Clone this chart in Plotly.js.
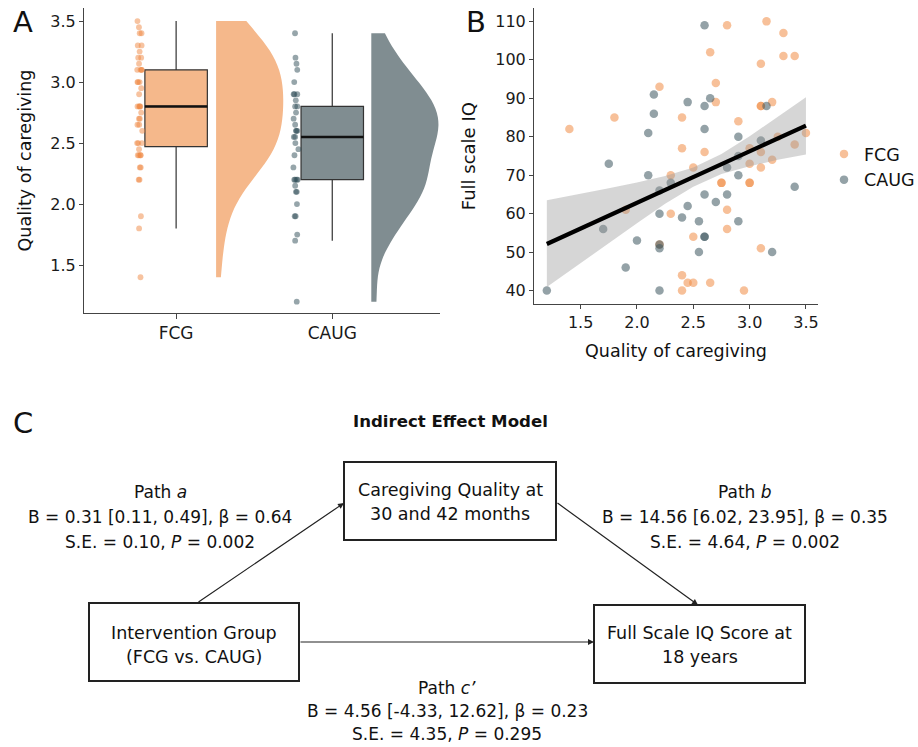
<!DOCTYPE html>
<html>
<head>
<meta charset="utf-8">
<script src="https://cdn.plot.ly/plotly-3.0.1.min.js"></script>
<style>html,body{margin:0;padding:0;background:#fff;}#chart{width:918px;height:747px;}</style>
</head>
<body>
<div id="chart"></div>
<script>
// ---------- Panel A data ----------
const groups = ['FCG', 'CAUG'];
const groupPos = [1, 2];
const fcgCare = [3.5, 3.45, 3.4, 3.4, 3.3, 3.3, 3.25, 3.2, 3.2, 3.15, 3.1, 3.1, 3.1, 3.1, 3.0, 3.0, 3.0, 2.95, 2.9,
  2.8, 2.8, 2.8, 2.8, 2.75, 2.7, 2.7, 2.65, 2.65, 2.6, 2.5, 2.5, 2.5, 2.45, 2.4, 2.4, 2.4, 2.4, 2.3, 2.3, 2.2, 2.2,
  1.9, 1.8, 1.4];
const caugCare = [3.4, 3.2, 3.15, 3.1, 3.0, 2.9, 2.9, 2.9, 2.85, 2.8, 2.8, 2.75, 2.7, 2.65, 2.6, 2.6, 2.6, 2.55, 2.55,
  2.5, 2.45, 2.4, 2.3, 2.2, 2.2, 2.2, 2.2, 2.15, 2.1, 2.1, 2.0, 1.9, 1.9, 1.75, 1.7, 1.2];
const boxQ1 = [2.47, 2.2];
const boxMedian = [2.8, 2.55];
const boxQ3 = [3.1, 2.8];
const boxLow = [1.8, 1.7];
const boxHigh = [3.5, 3.4];
const aTicks = [1.5, 2.0, 2.5, 3.0, 3.5];

// ---------- Panel B data ----------
const fcgX = [1.4, 1.8, 1.9, 2.2, 2.2, 2.3, 2.3, 2.4, 2.4, 2.4, 2.4, 2.45, 2.5, 2.5, 2.5, 2.6, 2.65, 2.65, 2.7, 2.7,
  2.75, 2.75, 2.8, 2.8, 2.8, 2.9, 2.95, 3.0, 3.0, 3.0, 3.0, 3.1, 3.1, 3.1, 3.1, 3.1, 3.1, 3.15, 3.2, 3.2, 3.25,
  3.3, 3.3, 3.4, 3.4, 3.5];
const fcgIQ = [82, 85, 61, 93, 52, 70, 60, 85, 77, 44, 40, 42, 72, 54, 42, 76, 102, 42, 94, 89,
  68, 68, 109, 61, 56, 84, 40, 77, 73, 68, 68, 99, 88, 88, 76, 72, 51, 110, 89, 74, 80,
  107, 101, 101, 78, 81];
const caugX = [1.2, 1.7, 1.75, 1.9, 2.0, 2.1, 2.1, 2.15, 2.15, 2.2, 2.2, 2.2, 2.2, 2.2, 2.3, 2.4, 2.45, 2.45, 2.55,
  2.55, 2.6, 2.6, 2.6, 2.6, 2.6, 2.6, 2.65, 2.7, 2.8, 2.8, 2.9, 2.9, 2.9, 2.9, 3.1, 3.15, 3.2, 3.4];
const caugIQ = [40, 56, 73, 46, 53, 70, 81, 86, 91, 66, 60, 52, 51, 40, 68, 59, 62, 89, 58,
  50, 54, 54, 65, 82, 88, 109, 90, 63, 72, 65, 80, 75, 70, 58, 79, 88, 50, 67];
const fitX = [1.2, 3.5];
const fitY = [52.1, 82.9];
const bandX = [1.2, 1.5, 1.75, 2.0, 2.25, 2.5, 2.75, 3.0, 3.25, 3.5];
const bandLow = [40.9, 47.2, 52.4, 57.5, 62.6, 67.0, 70.3, 72.3, 74.0, 75.4];
const bandHigh = [63.5, 65.1, 66.6, 68.1, 69.8, 72.0, 75.5, 80.1, 85.2, 90.3];
const bXTicks = [1.5, 2.0, 2.5, 3.0, 3.5];
const bYTicks = [40, 50, 60, 70, 80, 90, 100, 110];

// ---------- Panel C text ----------
const pathA = ['Path <i>a</i>', 'B = 0.31 [0.11, 0.49], β = 0.64', 'S.E. = 0.10, <i>P</i> = 0.002'];
const pathB = ['Path <i>b</i>', 'B = 14.56 [6.02, 23.95], β = 0.35', 'S.E. = 4.64, <i>P</i> = 0.002'];
const pathC = ['Path <i>c’</i>', 'B = 4.56 [-4.33, 12.62], β = 0.23', 'S.E. = 4.35, <i>P</i> = 0.295'];
const boxMediator = ['Caregiving Quality at', '30 and 42 months'];
const boxX = ['Intervention Group', '(FCG vs. CAUG)'];
const boxY = ['Full Scale IQ Score at', '18 years'];
const modelTitle = 'Indirect Effect Model';

// ---------- colours ----------
const fcgFill = '#F5B88B', caugFill = '#808D91';
const fcgDot = 'rgba(240,135,65,0.5)', caugDot = 'rgba(45,75,85,0.5)';
const fcgDotB = 'rgba(240,140,70,0.55)', caugDotB = 'rgba(60,85,95,0.55)';

const W = 918, H = 747;
const px = v => v / W, py = v => 1 - v / H;
const FONT = 'DejaVu Sans';

const traces = [];
const fills = [fcgFill, caugFill];
const dots = [fcgDot, caugDot];
const samples = [fcgCare, caugCare];
const violinPos = [1.256, 2.25];
const violinBw = [0.25, 0.21];

for (let g = 0; g < 2; g++) {
  // half violin
  traces.push({
    type: 'violin', x0: violinPos[g], y: samples[g], side: 'positive', width: 0.86, bandwidth: violinBw[g],
    spanmode: 'hard', points: false, fillcolor: fills[g], line: {width: 0, color: fills[g]},
    xaxis: 'x', yaxis: 'y', showlegend: false, hoverinfo: 'skip', box: {visible: false}, meanline: {visible: false}
  });
  // box from summary stats
  traces.push({
    type: 'box', x: [groupPos[g]], q1: [boxQ1[g]], median: [boxMedian[g]], q3: [boxQ3[g]],
    lowerfence: [boxLow[g]], upperfence: [boxHigh[g]], width: 0.4, whiskerwidth: 0,
    fillcolor: fills[g], line: {color: '#333', width: 1.2}, boxpoints: false,
    xaxis: 'x', yaxis: 'y', showlegend: false, hoverinfo: 'skip'
  });
  // thick median
  traces.push({
    type: 'box', x: [groupPos[g]], q1: [boxMedian[g]], median: [boxMedian[g]], q3: [boxMedian[g]],
    lowerfence: [boxMedian[g]], upperfence: [boxMedian[g]], width: 0.4, whiskerwidth: 0,
    fillcolor: 'rgba(0,0,0,0)', line: {color: '#111', width: 2.6}, boxpoints: false,
    xaxis: 'x', yaxis: 'y', showlegend: false, hoverinfo: 'skip'
  });
  // jittered raw points
  traces.push({
    type: 'box', x0: groupPos[g], y: samples[g], width: 0.4, boxpoints: 'all', jitter: 0.1, pointpos: -1.16,
    fillcolor: 'rgba(0,0,0,0)', line: {color: 'rgba(0,0,0,0)', width: 0}, whiskerwidth: 0,
    marker: {color: dots[g], size: 5.8, line: {width: 0}},
    xaxis: 'x', yaxis: 'y', showlegend: false, hoverinfo: 'skip'
  });
}

// Panel B
traces.push({type: 'scatter', mode: 'markers', name: groups[0], x: fcgX, y: fcgIQ, xaxis: 'x2', yaxis: 'y2',
  marker: {color: fcgDotB, size: 8.5, line: {width: 0}}, hoverinfo: 'skip'});
traces.push({type: 'scatter', mode: 'markers', name: groups[1], x: caugX, y: caugIQ, xaxis: 'x2', yaxis: 'y2',
  marker: {color: caugDotB, size: 8.5, line: {width: 0}}, hoverinfo: 'skip'});
traces.push({type: 'scatter', mode: 'lines', x: bandX, y: bandLow, xaxis: 'x2', yaxis: 'y2',
  line: {width: 0, color: 'rgba(0,0,0,0)'}, showlegend: false, hoverinfo: 'skip'});
traces.push({type: 'scatter', mode: 'lines', x: bandX, y: bandHigh, xaxis: 'x2', yaxis: 'y2', fill: 'tonexty',
  fillcolor: 'rgba(153,153,153,0.4)', line: {width: 0, color: 'rgba(0,0,0,0)'}, showlegend: false, hoverinfo: 'skip'});
traces.push({type: 'scatter', mode: 'lines', x: fitX, y: fitY, xaxis: 'x2', yaxis: 'y2',
  line: {width: 4.2, color: '#000'}, showlegend: false, hoverinfo: 'skip'});

const axisCommon = {showline: true, linecolor: '#444', linewidth: 1, ticks: 'outside', ticklen: 4, tickcolor: '#444',
  showgrid: false, zeroline: false, tickfont: {size: 16, color: '#1a1a1a'}};

const annotations = [];
const txt = (text, x, y, size, extra) => annotations.push(Object.assign({
  text: text, x: px(x), y: py(y), xref: 'paper', yref: 'paper', showarrow: false,
  xanchor: 'center', yanchor: 'middle', font: {size: size, color: '#111'}
}, extra || {}));

txt('A', 23, 22, 29);
txt('B', 476, 22, 29);
txt('C', 23, 423, 29);
txt('<b>' + modelTitle + '</b>', 450, 421, 16.6);

const lineYs = [492, 517, 542];
pathA.forEach((t, i) => txt(t, 160, lineYs[i], 17));
pathB.forEach((t, i) => txt(t, 745, lineYs[i], 17));
const cYs = [688, 711, 734];
pathC.forEach((t, i) => txt(t, 447, cYs[i], 17));
boxMediator.forEach((t, i) => txt(t, 450, [490, 514][i], 17.5));
boxX.forEach((t, i) => txt(t, 194, [633, 657][i], 17.5));
boxY.forEach((t, i) => txt(t, 699.5, [633, 657][i], 17.5));

// arrows
const arrow = (hx, hy, tx, ty) => annotations.push({
  text: '', x: px(hx), y: py(hy), xref: 'paper', yref: 'paper', showarrow: true,
  ax: tx - hx, ay: ty - hy, axref: 'pixel', ayref: 'pixel',
  arrowhead: 2, arrowsize: 1, arrowwidth: 1.2, arrowcolor: '#222', standoff: 0, startstandoff: 0
});
arrow(344, 503, 197, 603);
arrow(698, 605, 556, 502);
arrow(594, 642, 299, 642);

const rect = (x0, y0, x1, y1) => ({type: 'rect', xref: 'paper', yref: 'paper', x0: px(x0), x1: px(x1), y0: py(y1), y1: py(y0),
  line: {color: '#222', width: 2}, fillcolor: 'rgba(0,0,0,0)'});

const layout = {
  width: W, height: H, margin: {l: 0, r: 0, t: 0, b: 0, autoexpand: false}, paper_bgcolor: '#fff', plot_bgcolor: '#fff',
  font: {family: FONT, color: '#111'},
  boxmode: 'overlay', violinmode: 'overlay',
  xaxis: Object.assign({}, axisCommon, {domain: [px(84), px(440)], range: [0.41, 2.69], tickvals: groupPos, ticktext: groups,
    anchor: 'y', tickfont: {size: 17, color: '#1a1a1a'}, ticklen: 5}),
  yaxis: Object.assign({}, axisCommon, {domain: [py(313), py(8)], range: [1.107, 3.607], tickvals: aTicks, tickformat: '.1f',
    anchor: 'x', title: {text: 'Quality of caregiving', font: {size: 17.5, color: '#111'}, standoff: 14}}),
  xaxis2: Object.assign({}, axisCommon, {domain: [px(534), px(818)], range: [1.086, 3.607], tickvals: bXTicks, tickformat: '.1f',
    anchor: 'y2', title: {text: 'Quality of caregiving', font: {size: 17.5, color: '#111'}, standoff: 13}}),
  yaxis2: Object.assign({}, axisCommon, {domain: [py(304), py(8.3)], range: [36.5, 113.4], tickvals: bYTicks,
    anchor: 'x2', title: {text: 'Full scale IQ', font: {size: 18, color: '#111'}, standoff: 14}}),
  showlegend: true,
  legend: {x: px(824), y: py(136), xanchor: 'left', yanchor: 'top', font: {size: 17.5, color: '#111'},
    bgcolor: 'rgba(0,0,0,0)', borderwidth: 0, tracegroupgap: 0, traceorder: 'normal'},
  annotations: annotations,
  shapes: [rect(344, 462, 556, 540), rect(89, 603, 299, 681), rect(594, 605, 805, 683)]
};

Plotly.newPlot('chart', traces, layout, {displayModeBar: false, staticPlot: true});
</script>
</body>
</html>
